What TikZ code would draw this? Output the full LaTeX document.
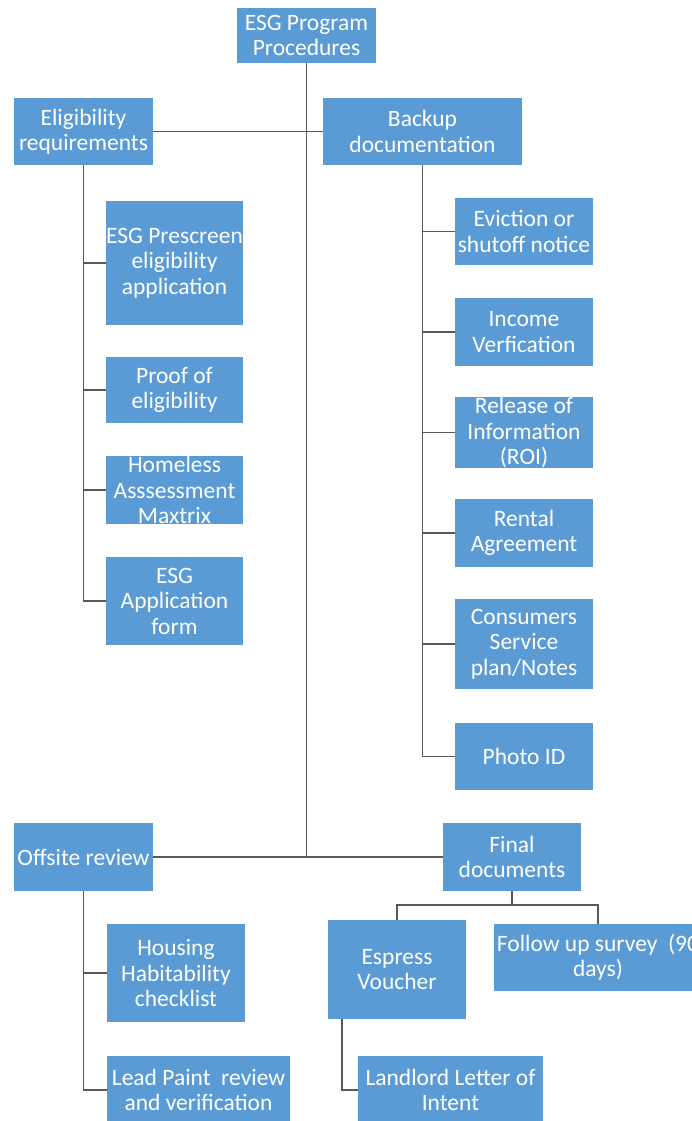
\documentclass[tikz,border=0pt]{standalone}
\usepackage{fontspec}
\setmainfont{Carlito}
\usepackage{tikz}
\definecolor{boxblue}{HTML}{5B9BD5}
\definecolor{linegray}{HTML}{595959}

\begin{document}
\begin{tikzpicture}[x=1pt,y=-1pt]
	\useasboundingbox (0,0) rectangle (692,1121);
	\begin{scope}[every node/.style={rectangle,fill=boxblue,text=white,align=center,inner sep=0pt,font=\fontsize{23.5}{25.5}\selectfont}]
		\node[minimum width=139pt,minimum height=55pt] (P) at (306.5,35.5) {ESG Program\\Procedures};
		\node[minimum width=139pt,minimum height=67pt] (E) at (83.5,131.5) {Eligibility\\requirements};
		\node[minimum width=199pt,minimum height=67pt] (B) at (422.5,131.5) {Backup\\documentation};
		\node[minimum width=137pt,minimum height=124pt] (E1) at (174.5,263) {ESG Prescreen\\eligibility\\application};
		\node[minimum width=137pt,minimum height=66pt] (E2) at (174.5,390) {Proof of\\eligibility};
		\node[minimum width=137pt,minimum height=66pt] (E3) at (174.5,490) {Homeless\\Asssessment\\Maxtrix};
		\node[minimum width=137pt,minimum height=88pt] (E4) at (174.5,601) {ESG\\Application\\form};
		\node[minimum width=138pt,minimum height=67pt] (B1) at (524,231.5) {Eviction or\\shutoff notice};
		\node[minimum width=138pt,minimum height=68pt] (B2) at (524,332) {Income\\Verfication};
		\node[minimum width=138pt,minimum height=67pt] (B3) at (524,432.5) {Release of\\Information\\(ROI)};
		\node[minimum width=138pt,minimum height=68pt] (B4) at (524,533) {Rental\\Agreement};
		\node[minimum width=138pt,minimum height=90pt] (B5) at (524,644) {Consumers\\Service\\plan/Notes};
		\node[minimum width=138pt,minimum height=67pt] (B6) at (524,756.5) {Photo ID};
		\node[minimum width=139pt,minimum height=68pt] (O) at (83.5,857) {Offsite review};
		\node[minimum width=138pt,minimum height=98pt] (O1) at (176,973) {Housing\\Habitability\\checklist};
		\node[minimum width=183pt,minimum height=68pt] (O2) at (198.5,1090) {Lead Paint\ \ review\\and verification};
		\node[minimum width=138pt,minimum height=68pt] (F) at (512,857) {Final\\documents};
		\node[minimum width=138pt,minimum height=99pt] (F1) at (397,969.5) {Espress\\Voucher};
		\node[minimum width=208pt,minimum height=67pt] (F2) at (598,957.5) {Follow up survey\ \ (90\\days)};
		\node[minimum width=185pt,minimum height=68pt] (F3) at (450.5,1090) {Landlord Letter of\\Intent};
	\end{scope}
	
	\begin{scope}[draw=linegray,line width=1.8pt]
		\draw (P.south) -- (P.south |- O.east);
		\draw (E) -- (B);
		\draw (O) -- (F);
		\foreach \n in {E1,E2,E3,E4} \draw (E.south) |- (\n.west);
		\foreach \n in {B1,B2,B3,B4,B5,B6} \draw (B.south) |- (\n.west);
		\foreach \n in {O1,O2} \draw (O.south) |- (\n.west);
		\foreach \n in {F1,F2} \draw (F.south) -- ++(0,14) -| (\n.north);
		\draw ([xshift=14pt]F1.south west) |- (F3.west);
	\end{scope}
\end{tikzpicture}
\end{document}
